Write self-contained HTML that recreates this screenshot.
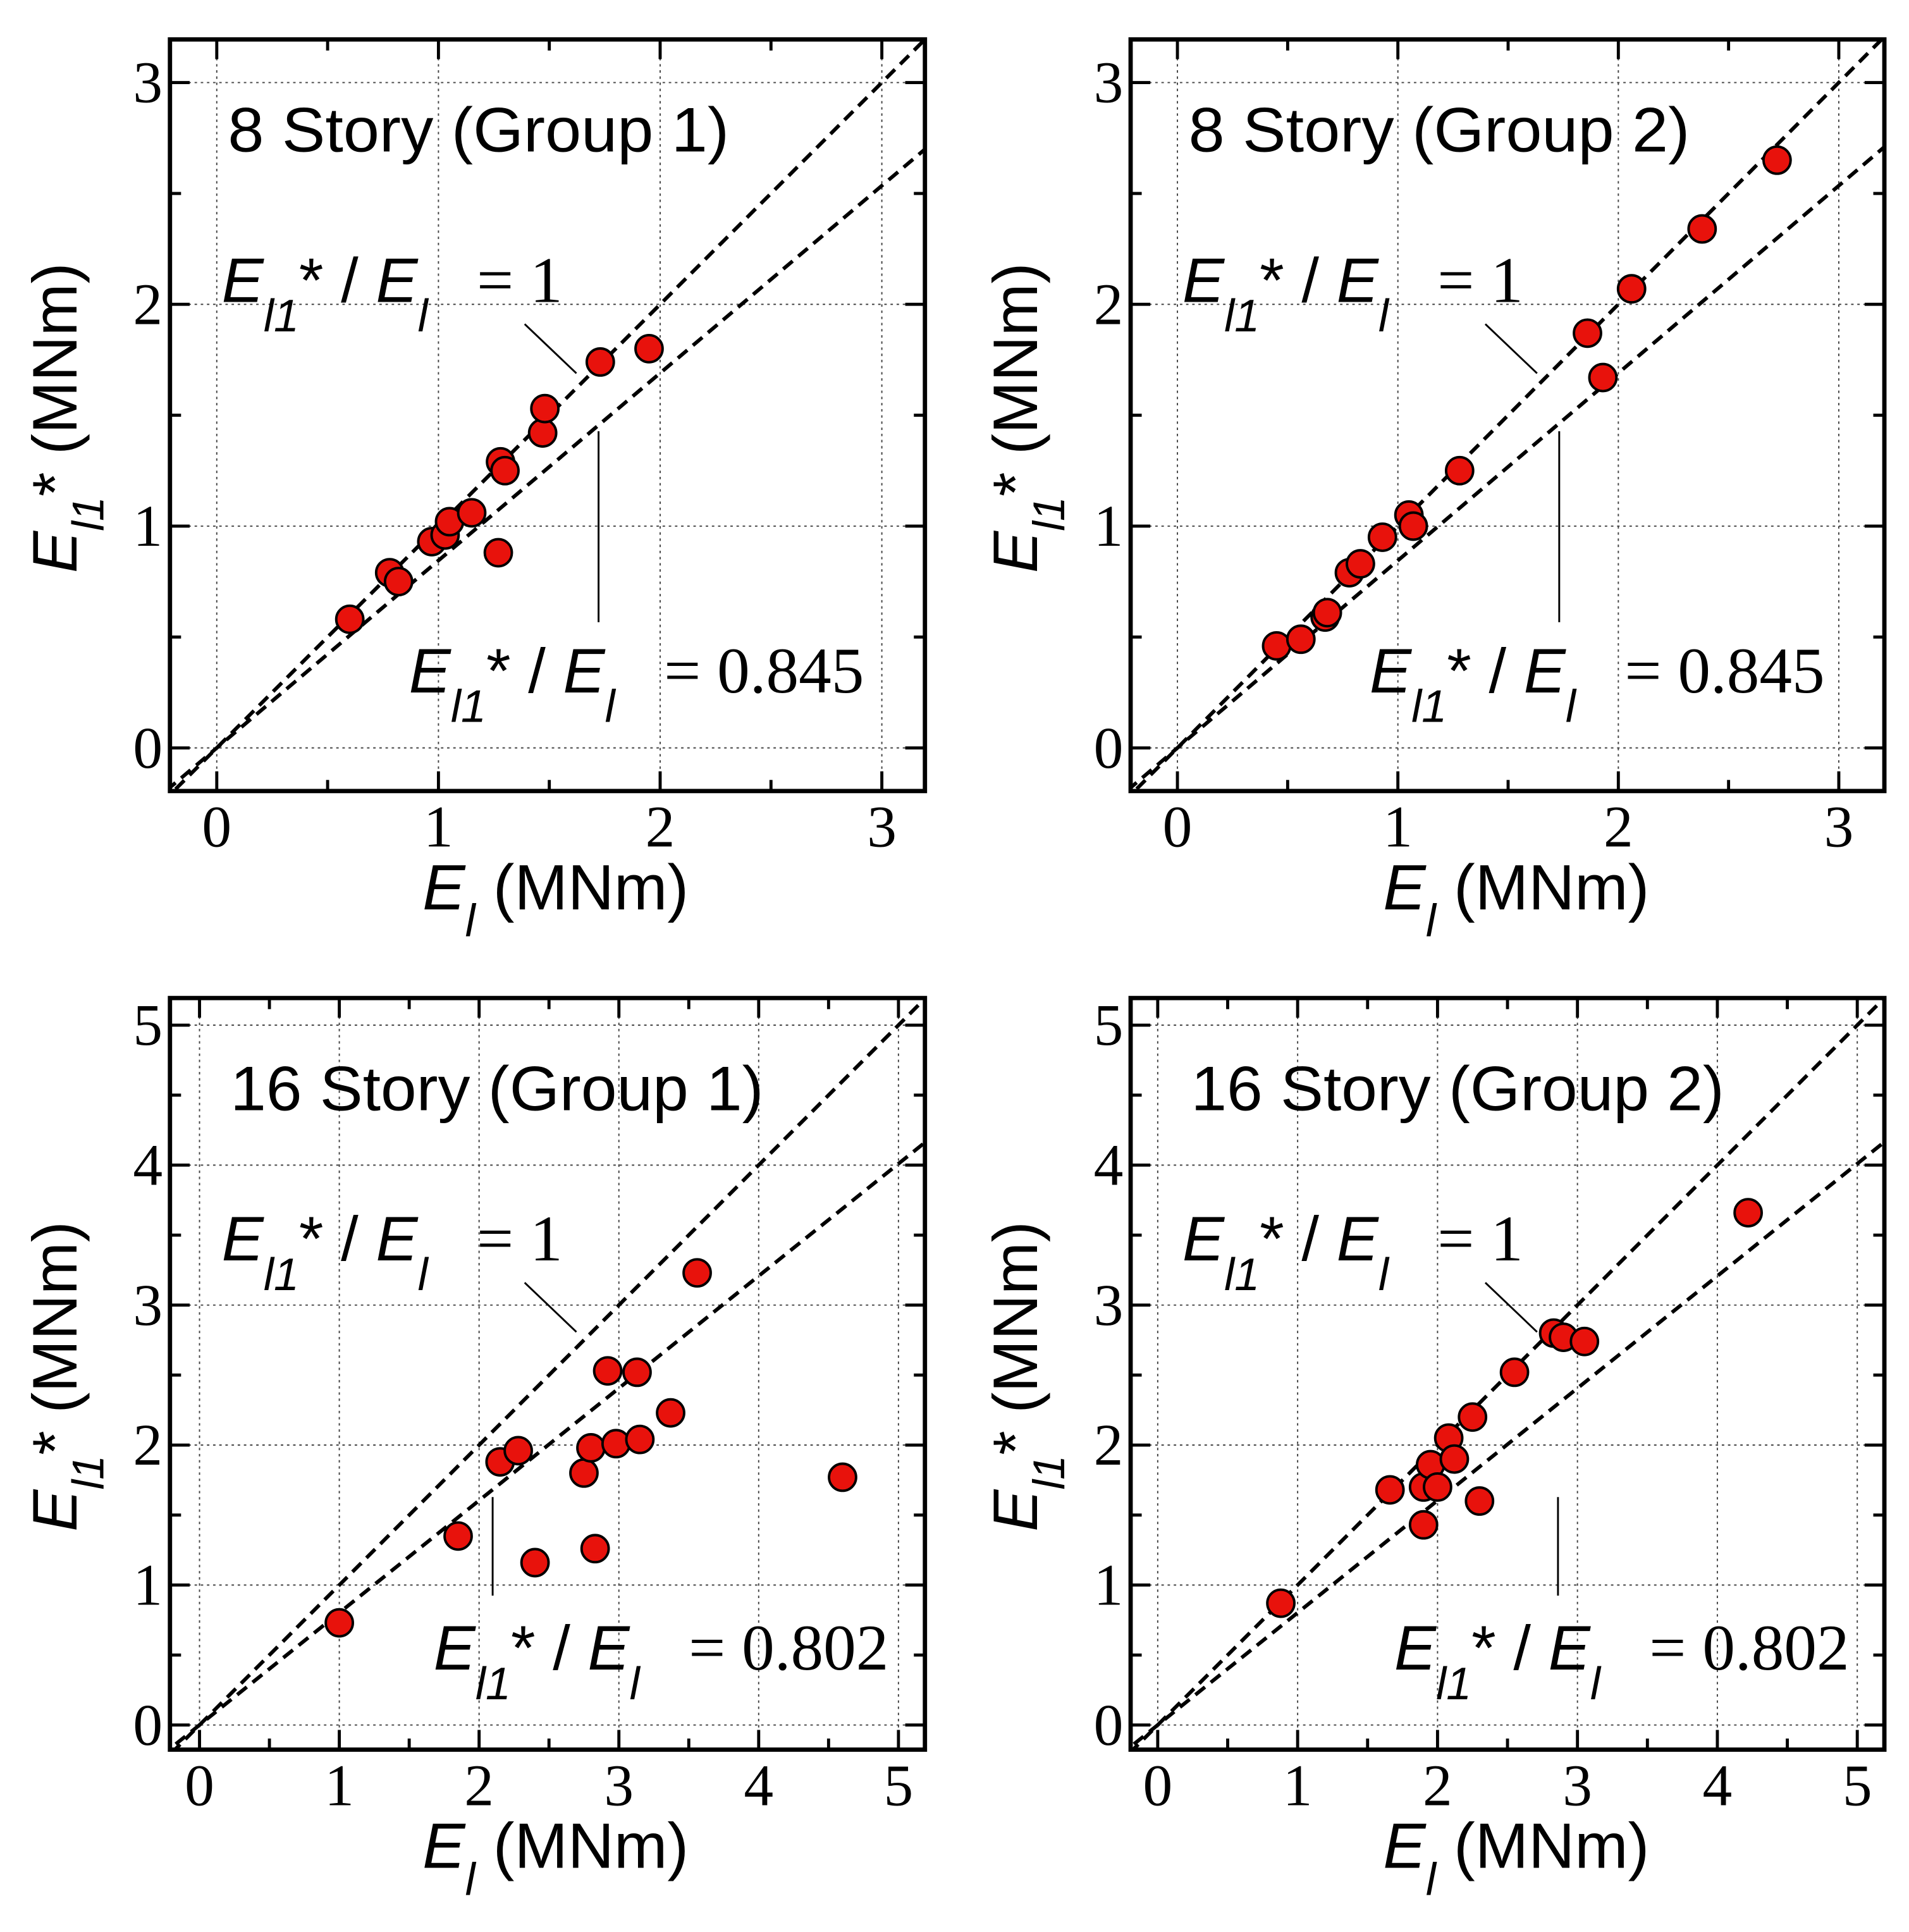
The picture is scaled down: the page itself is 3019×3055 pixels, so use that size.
<!DOCTYPE html>
<html><head><meta charset="utf-8"><style>
html,body{margin:0;padding:0;background:#fff}
svg{display:block}
</style></head><body>
<svg id="chart" width="3019" height="3055" viewBox="0 0 1550 1568" preserveAspectRatio="none" xmlns="http://www.w3.org/2000/svg"></svg>
<script>
const titles=["8 Story (Group 1)","8 Story (Group 2)","16 Story (Group 1)","16 Story (Group 2)"];
const ratios=[0.845,0.845,0.802,0.802];
const ratioLabels=["0.845","0.845","0.802","0.802"];
const xTicksSmall=[0,1,2,3];
const xTicksLarge=[0,1,2,3,4,5];
const p1x=[0.6,0.78,0.82,0.97,1.03,1.05,1.15,1.27,1.28,1.3,1.47,1.48,1.73,1.95];
const p1y=[0.58,0.79,0.75,0.93,0.96,1.02,1.06,0.88,1.29,1.25,1.42,1.53,1.74,1.8];
const p2x=[0.45,0.56,0.67,0.68,0.78,0.83,0.93,1.05,1.07,1.28,1.86,1.93,2.06,2.38,2.72];
const p2y=[0.46,0.49,0.59,0.61,0.79,0.83,0.95,1.05,1.0,1.25,1.87,1.67,2.07,2.34,2.65];
const p3x=[1.0,1.85,2.15,2.28,2.4,2.75,2.8,2.83,2.92,2.98,3.13,3.15,3.37,3.56,4.6];
const p3y=[0.73,1.35,1.88,1.96,1.16,1.8,1.98,1.26,2.53,2.01,2.52,2.04,2.23,3.23,1.77];
const p4x=[0.88,1.66,1.9,1.9,1.95,2.0,2.08,2.12,2.25,2.3,2.55,2.83,2.9,3.05,4.22];
const p4y=[0.87,1.68,1.43,1.7,1.86,1.7,2.05,1.9,2.2,1.6,2.52,2.8,2.77,2.74,3.66];
const xs=[p1x,p2x,p3x,p4x], ys=[p1y,p2y,p3y,p4y];
const svg=document.getElementById('chart');
const NS="http://www.w3.org/2000/svg";
function mk(tag,attrs,parent){const e=document.createElementNS(NS,tag);for(const k in attrs)e.setAttribute(k,attrs[k]);(parent||svg).appendChild(e);return e;}
const panels=[
 {L:138,R:751,T:32,B:642,x0:176,y0:607,ux:180,uy:180,max:3,ticks:xTicksSmall},
 {L:918,R:1530,T:32,B:642,x0:956,y0:607,ux:179,uy:180,max:3,ticks:xTicksSmall},
 {L:138,R:751,T:810,B:1420,x0:162,y0:1400,ux:113.5,uy:113.6,max:5,ticks:xTicksLarge},
 {L:918,R:1530,T:810,B:1420,x0:940,y0:1400,ux:113.6,uy:113.6,max:5,ticks:xTicksLarge}
];
panels.forEach((p,i)=>{
 const g=mk('g',{});
 
 
 const X=v=>p.x0+v*p.ux, Y=v=>p.y0-v*p.uy;
 const cid='clip'+i;
 const cp=mk('clipPath',{id:cid},g);mk('rect',{x:p.L,y:p.T,width:p.R-p.L,height:p.B-p.T},cp);
 p.ticks.forEach(t=>{
  const gx=mk('line',{x1:X(t),x2:X(t),y1:p.T,y2:p.B,stroke:'#444','stroke-width':1,'stroke-dasharray':'2,3'},g);
  
  const gy=mk('line',{x1:p.L,x2:p.R,y1:Y(t),y2:Y(t),stroke:'#444','stroke-width':1,'stroke-dasharray':'2,3'},g);
  
 });
 for(let t=0;t<=p.max+0.001;t+=0.5){
  const major=Math.abs(t-Math.round(t))<0.01, len=major?16:9;
  mk('line',{x1:X(t),x2:X(t),y1:p.B,y2:p.B-len,stroke:'#000','stroke-width':2.5},g);
  mk('line',{x1:X(t),x2:X(t),y1:p.T,y2:p.T+len,stroke:'#000','stroke-width':2.5},g);
  mk('line',{x1:p.L,x2:p.L+len,y1:Y(t),y2:Y(t),stroke:'#000','stroke-width':2.5},g);
  mk('line',{x1:p.R,x2:p.R-len,y1:Y(t),y2:Y(t),stroke:'#000','stroke-width':2.5},g);
 }
 p.ticks.forEach(t=>{
  const tx=mk('text',{x:X(t),y:p.B+45,'text-anchor':'middle','font-family':'Liberation Serif, serif','font-size':48},g);tx.textContent=t;
  
  const ty=mk('text',{x:p.L-6,y:Y(t)+16,'text-anchor':'end','font-family':'Liberation Serif, serif','font-size':48},g);ty.textContent=t;
  
 });
 const cg=mk('g',{'clip-path':'url(#'+cid+')'},g);
 const lo=-0.5,hi=p.max+0.5;
 const l1=mk('line',{x1:X(lo),y1:Y(lo),x2:X(hi),y2:Y(hi),stroke:'#000','stroke-width':3,'stroke-dasharray':'10,6'},cg);
 
 const r=ratios[i];
 const l2=mk('line',{x1:X(lo),y1:Y(lo*r),x2:X(hi),y2:Y(hi*r),stroke:'#000','stroke-width':3,'stroke-dasharray':'10,6'},cg);
 
 xs[i].forEach((xv,j)=>{
  const c=mk('circle',{cx:X(xv),cy:Y(ys[i][j]),r:11,fill:'#e8120c',stroke:'#000','stroke-width':2},g);
  
 });
 mk('rect',{x:p.L,y:p.T,width:p.R-p.L,height:p.B-p.T,fill:'none',stroke:'#000','stroke-width':3.5},g);
 const ox=p.L-138, oy=p.T-32;
 const big=i>=2;
 const tt=mk('text',{x:ox+(big?187:185),y:oy+123,'font-family':'Liberation Sans, sans-serif','font-size':51,textLength:big?433:407,lengthAdjust:'spacingAndGlyphs'},g);tt.textContent=titles[i];
 
 function ann(x,y,val,name){
  const t=mk('text',{x:x,y:y,'font-family':'Liberation Sans, sans-serif','font-size':51},g);
  
  t.innerHTML='<tspan font-style="italic">E</tspan><tspan font-size="37" font-style="italic" dy="24">l1</tspan><tspan dy="-24">* / </tspan><tspan font-style="italic">E</tspan><tspan font-size="37" font-style="italic" dy="24">l</tspan><tspan dy="-24" font-family="Liberation Serif, serif" font-size="53">&#160;&#160;&#160;= '+val+'</tspan>';
 }
 ann(ox+180,oy+245,'1','unity-annotation');
 const a2x= big? ox+352 : ox+332, a2y= big? oy+1355-778 : oy+562;
 ann(a2x,a2y,ratioLabels[i],'ratio-annotation');
 const ly=big?oy+1041-778:oy+263;
 mk('line',{x1:ox+426,y1:ly,x2:ox+468,y2:ly+40,stroke:'#000','stroke-width':1.5},g);
 if(!big) mk('line',{x1:ox+486,y1:oy+350,x2:ox+486,y2:oy+505,stroke:'#000','stroke-width':1.5},g);
 else { const vx=i==2?ox+400:ox+1265-918+138; mk('line',{x1:vx,y1:oy+1215-778,x2:vx,y2:oy+1295-778,stroke:'#000','stroke-width':1.5},g);}
 const xl=mk('text',{x:ox+343,y:p.B+96,'font-family':'Liberation Sans, sans-serif','font-size':52},g);
 
 xl.innerHTML='<tspan font-style="italic">E</tspan><tspan font-size="37" font-style="italic" dy="22">l</tspan><tspan dy="-22"> (MNm)</tspan>';
 const cy=(p.T+p.B)/2;
 const yl=mk('text',{x:0,y:0,transform:'translate('+(ox+62)+','+(cy+128)+') rotate(-90)','font-family':'Liberation Sans, sans-serif','font-size':51},g);
 
 yl.innerHTML='<tspan font-style="italic">E</tspan><tspan font-size="36" font-style="italic" dy="22">l1</tspan><tspan dy="-22">* (MNm)</tspan>';
});
</script>
</body></html>
